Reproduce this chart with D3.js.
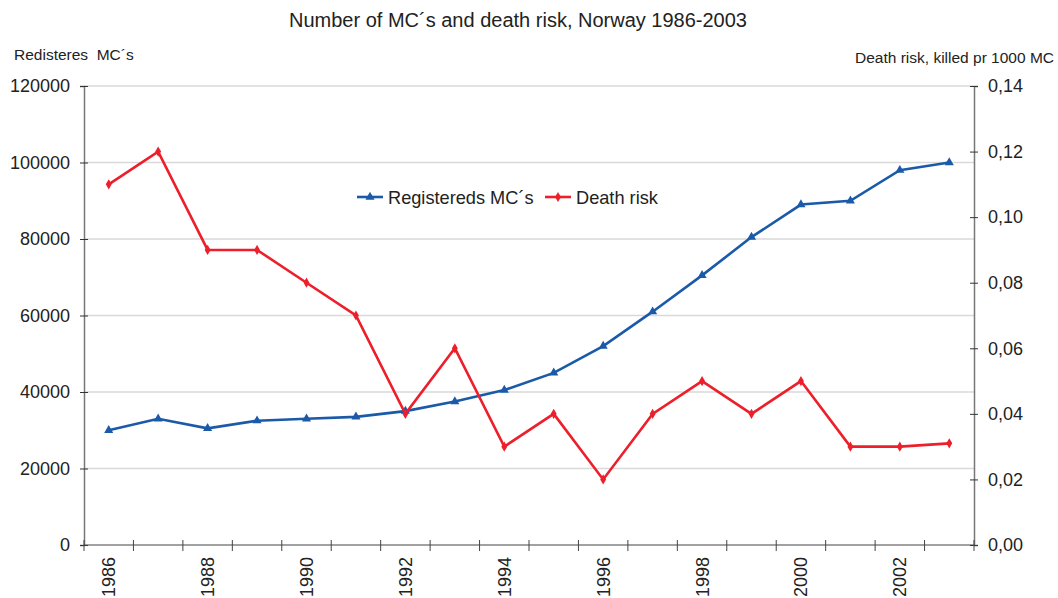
<!DOCTYPE html>
<html><head><meta charset="utf-8">
<script src="https://cdn.jsdelivr.net/npm/d3@7"></script>
<style>body{margin:0;background:#fff;} svg{display:block;font-family:"Liberation Sans",Arial,sans-serif;}</style>
</head><body>
<svg id="c" width="1058" height="598"></svg>
<script>
const years = [1986,1987,1988,1989,1990,1991,1992,1993,1994,1995,1996,1997,1998,1999,2000,2001,2002,2003];
const registered = [30000,33000,30500,32500,33000,33500,35000,37500,40500,45000,52000,61000,70500,80500,89000,90000,98000,100000];
const deathRisk = [0.110,0.120,0.090,0.090,0.080,0.070,0.040,0.060,0.030,0.040,0.020,0.040,0.050,0.040,0.050,0.030,0.030,0.031];
const leftTicks = [0,20000,40000,60000,80000,100000,120000];
const rightTicks = [0,0.02,0.04,0.06,0.08,0.10,0.12,0.14];
const yearLabels = [1986,1988,1990,1992,1994,1996,1998,2000,2002];

const blue = "#1a5aa8", red = "#ec1f2b";
const svg = d3.select("#c");
const L = 84, R = 974, T = 86, B = 545;
const x = d3.scaleBand().domain(years).range([L, R]);
const yL = d3.scaleLinear().domain([0,120000]).range([B, T]);
const yR = d3.scaleLinear().domain([0,0.14]).range([B, T]);

// gridlines
svg.append("g").selectAll("line").data(leftTicks.slice(1)).join("line")
  .attr("x1", L).attr("x2", R).attr("y1", d=>yL(d)).attr("y2", d=>yL(d))
  .attr("stroke", "#d9d9d9").attr("stroke-width", 1.5);

// left axis
const gl = svg.append("g").attr("transform", `translate(${L},0)`)
  .call(d3.axisLeft(yL).tickValues(leftTicks).tickFormat(d3.format("d")).tickSize(4).tickPadding(10));
gl.selectAll(".tick line").attr("x2", 4).attr("x1", -4);
// right axis
const gr = svg.append("g").attr("transform", `translate(${R},0)`)
  .call(d3.axisRight(yR).tickValues(rightTicks).tickFormat(d=>d3.format(".2f")(d).replace(".", ",")).tickSize(4).tickPadding(10));
gr.selectAll(".tick line").attr("x1", -4).attr("x2", 4);
// bottom axis: ticks at band boundaries
const gb = svg.append("g").attr("transform", `translate(0,${B})`);
gb.append("line").attr("x1", L).attr("x2", R).attr("stroke", "#444").attr("stroke-width", 1.2);
const bounds = years.map(y => x(y)).concat([R]);
gb.selectAll("line.tk").data(bounds).join("line").attr("class","tk")
  .attr("x1", d=>d).attr("x2", d=>d).attr("y1", -5).attr("y2", 6)
  .attr("stroke", "#444").attr("stroke-width", 1);
gb.selectAll("text").data(yearLabels).join("text")
  .attr("transform", d=>`translate(${x(d)+x.bandwidth()/2+6.5},12) rotate(-90)`)
  .attr("text-anchor", "end").attr("font-size", 18).attr("fill", "#222").text(d=>d);

[gl, gr].forEach(g => {
  g.select(".domain").attr("stroke", "#777").attr("stroke-width", 1.5);
  g.selectAll(".tick line").attr("stroke", "#333");
  g.selectAll("text").attr("font-size", 18).attr("fill", "#222").attr("font-family", "'Liberation Sans',Arial,sans-serif");
});

const cx = d => x(d) + x.bandwidth()/2;
// blue line
svg.append("path").datum(years.map((d,i)=>[cx(d), yL(registered[i])]))
  .attr("d", d3.line()).attr("fill","none").attr("stroke", blue).attr("stroke-width", 2.6);
svg.append("g").selectAll("path").data(years).join("path")
  .attr("d", d3.symbol().type(d3.symbolTriangle).size(36))
  .attr("transform", (d,i)=>`translate(${cx(d)},${yL(registered[i])})`).attr("fill", blue);
// red line
svg.append("path").datum(years.map((d,i)=>[cx(d), yR(deathRisk[i])]))
  .attr("d", d3.line()).attr("fill","none").attr("stroke", red).attr("stroke-width", 2.6);
svg.append("g").selectAll("path").data(years).join("path")
  .attr("d", d3.symbol().type(d3.symbolDiamond).size(30))
  .attr("transform", (d,i)=>`translate(${cx(d)},${yR(deathRisk[i])})`).attr("fill", red);

// legend
const lg = svg.append("g");
lg.append("line").attr("x1",357).attr("x2",383).attr("y1",197).attr("y2",197).attr("stroke",blue).attr("stroke-width",2.6);
lg.append("path").attr("d", d3.symbol().type(d3.symbolTriangle).size(36)).attr("transform","translate(370,197)").attr("fill",blue);
lg.append("text").attr("x",388).attr("y",204).attr("font-size",18.2).attr("fill","#222").text("Registereds MC´s");
lg.append("line").attr("x1",545).attr("x2",571).attr("y1",197).attr("y2",197).attr("stroke",red).attr("stroke-width",2.6);
lg.append("path").attr("d", d3.symbol().type(d3.symbolDiamond).size(30)).attr("transform","translate(558,197)").attr("fill",red);
lg.append("text").attr("x",576).attr("y",204).attr("font-size",18.2).attr("fill","#222").text("Death risk");

// titles
svg.append("text").attr("x",518).attr("y",27).attr("text-anchor","middle").attr("font-size",20).attr("fill","#222")
  .text("Number of MC´s and death risk, Norway 1986-2003");
svg.append("text").attr("x",14).attr("y",60).attr("font-size",15.5).attr("fill","#222").attr("xml:space","preserve")
  .style("white-space","pre").text("Redisteres  MC´s");
svg.append("text").attr("x",1054).attr("y",63).attr("text-anchor","end").attr("font-size",15.5).attr("fill","#222")
  .text("Death risk, killed pr 1000 MC");
</script>
</body></html>
